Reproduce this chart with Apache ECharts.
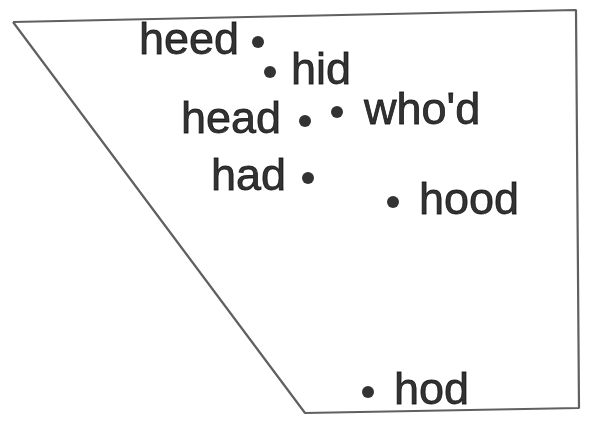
<!DOCTYPE html>
<html><head><meta charset="utf-8">
<script src="https://cdn.jsdelivr.net/npm/echarts@6/dist/echarts.min.js"></script>
<style>html,body{margin:0;padding:0;background:#fff}#c{width:596px;height:427px}</style>
</head><body><div id="c"></div>
<script>
// vowel words and positions (chart units: x to the right, y downward)
const words = ["heed", "hid", "head", "who'd", "had", "hood", "hod"];
const xs = [258, 270, 305, 337, 308, 393, 368];
const ys = [42, 72, 121, 112, 178, 202, 392];
const labelSide = ["left", "right", "left", "right", "left", "right", "right"];
const labelGap = [13, 15, 18, 21, 16, 20, 20];
// vowel quadrilateral outline corners
const quadX = [13, 576, 579, 305, 13];
const quadY = [22, 10, 408, 413, 22];

const chart = echarts.init(document.getElementById('c'), null, {renderer: 'canvas'});
chart.setOption({
  backgroundColor: '#ffffff',
  animation: false,
  grid: {left: 0, right: 0, top: 0, bottom: 0},
  xAxis: {type: 'value', min: 0, max: 596, show: false},
  yAxis: {type: 'value', min: 0, max: 427, inverse: true, show: false},
  series: [
    {
      type: 'line',
      data: quadX.map((x, i) => [x, quadY[i]]),
      symbol: 'none',
      lineStyle: {color: '#606060', width: 2.2},
      silent: true
    },
    {
      type: 'scatter',
      symbol: 'circle',
      symbolSize: 12,
      itemStyle: {color: '#000'},
      data: words.map((w, i) => ({
        value: [xs[i], ys[i]],
        name: w,
        label: {position: labelSide[i], distance: labelGap[i]}
      })),
      label: {
        show: true,
        formatter: p => p.name,
        color: '#000',
        textBorderColor: '#000',
        textBorderWidth: 0.8,
        fontFamily: 'Liberation Sans, Arial, sans-serif',
        fontSize: 45
      }
    }
  ]
});
</script></body></html>
